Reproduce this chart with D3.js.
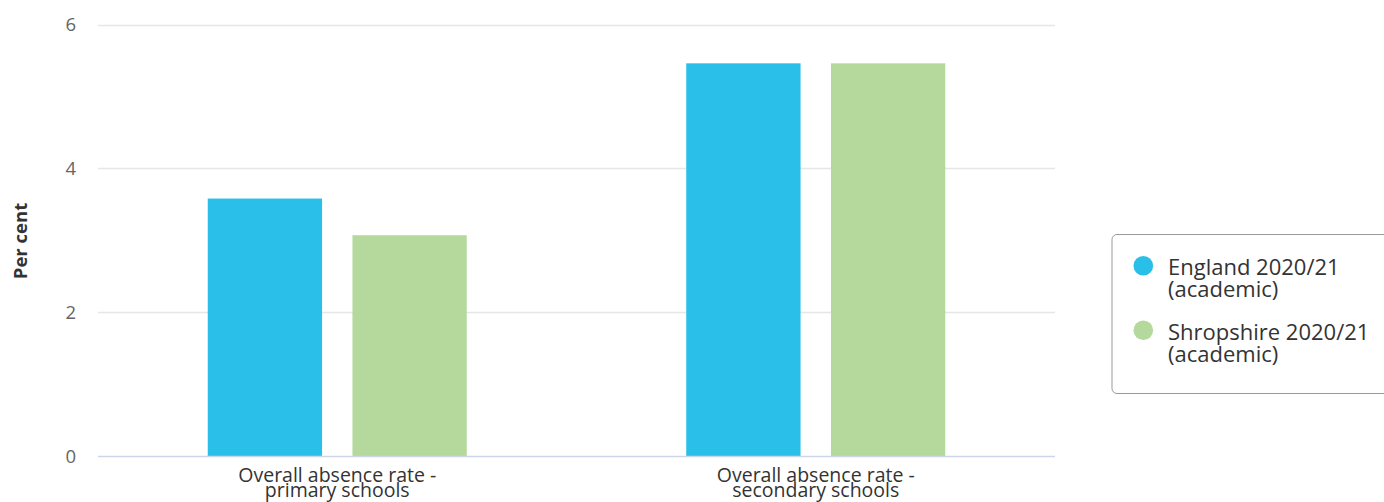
<!DOCTYPE html>
<html>
<head>
<meta charset="utf-8">
<script src="https://cdn.jsdelivr.net/npm/d3@7"></script>
<style>
  html, body { margin: 0; padding: 0; background: #fff; }
  svg { display: block; font-family: "Open Sans", sans-serif; }
</style>
</head>
<body>
<svg id="chart" width="1384" height="502"></svg>
<script>
const categories = ["Overall absence rate - primary schools", "Overall absence rate - secondary schools"];
const categoryLines = [["Overall absence rate -", "primary schools"], ["Overall absence rate -", "secondary schools"]];
const seriesNames = ["England 2020/21 (academic)", "Shropshire 2020/21 (academic)"];
const seriesLegendLines = [["England 2020/21", "(academic)"], ["Shropshire 2020/21", "(academic)"]];
const englandValues = [3.58, 5.46];
const shropshireValues = [3.07, 5.46];
const yTicks = [0, 2, 4, 6];
const yLabel = "Per cent";
const colors = ["#29bfe8", "#b5d99c"];

const svg = d3.select("#chart");
const plot = { left: 98, right: 1055, top: 24.5, bottom: 456 };

const x0 = d3.scaleBand().domain(categories).range([plot.left, plot.right]).paddingInner(0).paddingOuter(0);
const x1 = d3.scaleBand().domain(seriesNames).range([0, 259]).paddingInner(0.21).paddingOuter(0);
const y = d3.scaleLinear().domain([0, 6]).range([plot.bottom, plot.top]);

// gridlines
svg.append("g").selectAll("line").data(yTicks.filter(d => d !== 0)).join("line")
  .attr("x1", plot.left).attr("x2", plot.right)
  .attr("y1", d => Math.round(y(d)) + 0.5).attr("y2", d => Math.round(y(d)) + 0.5)
  .attr("stroke", "#e6e6e6").attr("stroke-width", 1.5);

// y tick labels
const yAxis = d3.axisLeft(y).tickValues(yTicks).tickSize(0).tickPadding(0).tickFormat(d3.format("d"));
const gy = svg.append("g").attr("transform", `translate(76,0)`).call(yAxis);
gy.select(".domain").remove();
gy.selectAll("text").attr("font-family", "Open Sans, sans-serif").attr("font-size", 18.5).attr("fill", "#666").attr("dy", "0.35em");

// y label
svg.append("text").attr("transform", `translate(27,241) rotate(-90)`)
  .attr("text-anchor", "middle").attr("font-size", 18.5).attr("font-weight", "bold").attr("fill", "#333").text(yLabel);

// bars
const data = categories.map((c, i) => ({ cat: c, values: [englandValues[i], shropshireValues[i]] }));
const groups = svg.append("g").selectAll("g").data(data).join("g")
  .attr("transform", d => `translate(${x0(d.cat) + (x0.bandwidth() - 259) / 2},0)`);
groups.selectAll("rect").data(d => d.values.map((v, j) => ({ s: seriesNames[j], v, j }))).join("rect")
  .attr("x", d => x1(d.s)).attr("width", x1.bandwidth())
  .attr("y", d => y(d.v)).attr("height", d => y(0) - y(d.v))
  .attr("fill", d => colors[d.j]);

// x axis line
svg.append("line").attr("x1", plot.left).attr("x2", plot.right)
  .attr("y1", plot.bottom + 0.5).attr("y2", plot.bottom + 0.5).attr("stroke", "#ccd6eb").attr("stroke-width", 1.5);

// x labels
const xl = svg.append("g").selectAll("text").data(categories).join("text")
  .attr("text-anchor", "middle").attr("font-size", 19.5).attr("fill", "#333")
  .attr("transform", (d) => `translate(${x0(d) + x0.bandwidth() / 2},0)`);
xl.each(function(d, i) {
  const t = d3.select(this);
  categoryLines[i].forEach((ln, k) => {
    t.append("tspan").attr("x", 0).attr("y", 482 + k * 15).text(ln);
  });
});

// legend
const lg = svg.append("g");
lg.append("rect").attr("x", 1112).attr("y", 234.5).attr("width", 290).attr("height", 159).attr("rx", 5)
  .attr("fill", "#fff").attr("stroke", "#999").attr("stroke-width", 1);
seriesLegendLines.forEach((lines, i) => {
  const cy = 265.7 + i * 64.5;
  lg.append("circle").attr("cx", 1143.3).attr("cy", cy).attr("r", 9.8).attr("fill", colors[i]);
  const t = lg.append("text").attr("font-size", 22).attr("fill", "#333");
  lines.forEach((ln, k) => {
    t.append("tspan").attr("x", 1168).attr("y", 275 + i * 65 + k * 22).text(ln);
  });
});
</script>
</body>
</html>
